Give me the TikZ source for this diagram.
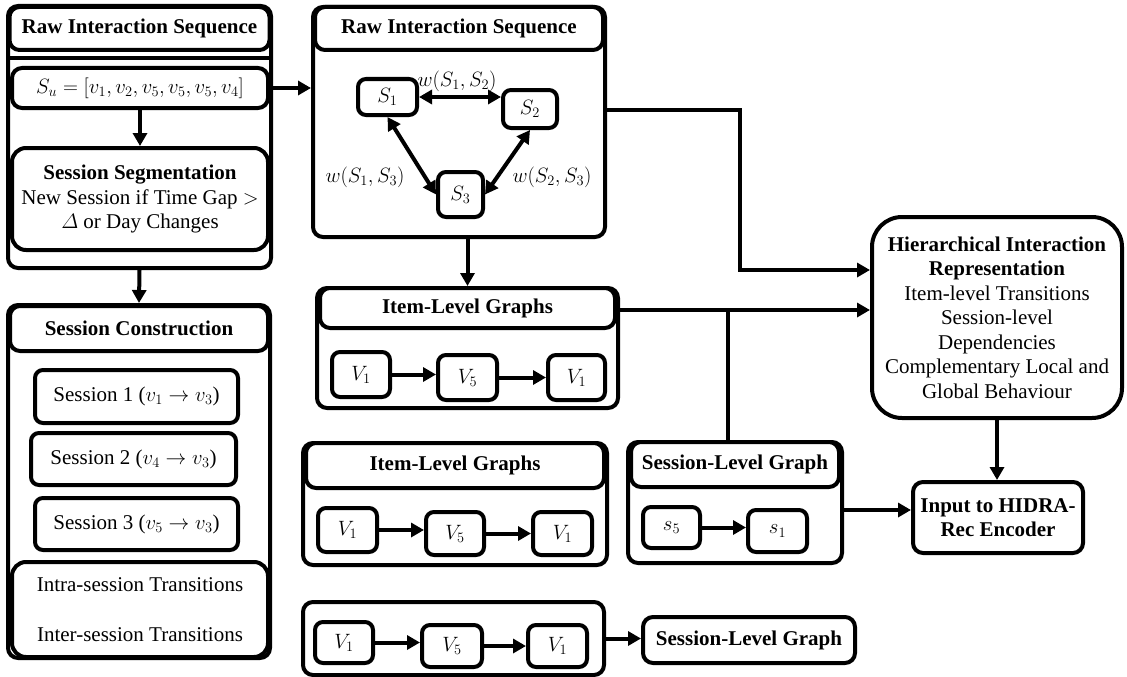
\documentclass[tikz,border=0pt]{standalone}
\usepackage{amsmath,amssymb}
\usepackage{fontspec}
\setmainfont{Liberation Serif}
\usetikzlibrary{arrows.meta,calc,positioning}

\begin{document}
\begin{tikzpicture}[x=1pt,y=-1pt,>={Triangle[length=13pt,width=14pt]},
  every node/.style={font=\fontsize{21}{24.5}\selectfont},
  sz/.style 2 args={minimum width=#1pt,minimum height=#2pt},
  panel/.style={draw,fill=white,line width=4pt,rounded corners=10pt,inner sep=0pt,align=center},
  head/.style={panel,font=\fontsize{21}{24.5}\selectfont\bfseries},
  item/.style={panel,rounded corners=8pt,font=\fontsize{22}{24.5}\selectfont},
  link/.style={line width=4pt,->}]
  \useasboundingbox (0,0) rectangle (1127,677);

  % left column
  \node[panel,sz={263}{262}] (rawA) at (139.5,137) {};
  \node[head,sz={260}{43}] (rawAT) at (139.5,28.5) {Raw Interaction Sequence};
  \draw[line width=4pt] (rawA.west |- 0,58) -- (rawA.east |- 0,58);
  \node[panel,sz={256}{40}] (seq) at (140,88) {$S_u=[v_1,v_2,v_5,v_5,v_5,v_4]$};
  \node[panel,sz={256}{102},rounded corners=14pt] (seg) at (140,199)
    {\textbf{Session Segmentation}\\New Session if Time Gap $>$\\$\varDelta$ or Day Changes};

  \node[panel,sz={262}{353}] (cons) at (139,481.5) {};
  \node[head,sz={258}{45}] (consT) at (139,328.5) {Session Construction};
  \node[item,sz={203}{53},font=\fontsize{21}{24.5}\selectfont] (ses1) at (136.5,396.5) {Session 1 ($v_1\rightarrow v_3$)};
  \node[item,sz={205}{52},font=\fontsize{21}{24.5}\selectfont] (ses2) at (133.5,459) {Session 2 ($v_4\rightarrow v_3$)};
  \node[item,sz={203}{52},font=\fontsize{21}{24.5}\selectfont] (ses3) at (136.5,524) {Session 3 ($v_5\rightarrow v_3$)};
  \node[panel,sz={256}{95},rounded corners=14pt] (trans) at (140,609.5)
    {Intra-session Transitions\\[25.5pt]Inter-session Transitions};

  % session graph
  \node[panel,sz={292}{230}] (rawB) at (459,122) {};
  \node[head,sz={288}{43}] (rawBT) at (459,28.5) {Raw Interaction Sequence};
  \node[item,sz={59}{36}] (S1) at (387.5,97) {$S_1$};
  \node[item,sz={54}{38}] (S2) at (530,109) {$S_2$};
  \node[item,sz={45}{45}] (S3) at (460.5,194.5) {$S_3$};
  \node (w12) at (457,81) {$w(S_1,S_2)$};
  \node (w13) at (365,177) {$w(S_1,S_3)$};
  \node (w23) at (552,177) {$w(S_2,S_3)$};
  \draw[link,<->] (S1.east) -- (S1.east -| S2.west);
  \draw[link,<->] (S1.south) -- (S3.west);
  \draw[link,<->] (S2.south) -- (S3.east);

  % item-level graphs
  \node[panel,sz={301}{120}] (itemA) at (467.5,348) {};
  \node[head,sz={295}{40}] (itemAT) at (467.5,308) {Item-Level Graphs};
  \node[item,sz={58}{45}] (Va1) at (361,374.5) {$V_1$};
  \node[item,sz={59}{45}] (Va2) at (467.5,377.5) {$V_5$};
  \node[item,sz={57}{45}] (Va3) at (576.5,377.5) {$V_1$};

  \node[panel,sz={304}{122}] (itemB) at (455,504) {};
  \node[head,sz={298}{45}] (itemBT) at (455,465.5) {Item-Level Graphs};
  \node[item,sz={59}{44}] (Vb1) at (347.5,530) {$V_1$};
  \node[item,sz={58}{43}] (Vb2) at (455,533.5) {$V_5$};
  \node[item,sz={59}{43}] (Vb3) at (562.5,533.5) {$V_1$};

  \node[panel,sz={301}{73}] (itemC) at (453.5,638.5) {};
  \node[item,sz={58}{41}] (Vc1) at (344,642.5) {$V_1$};
  \node[item,sz={60}{42}] (Vc2) at (452,646) {$V_5$};
  \node[item,sz={59}{42}] (Vc3) at (557.5,646) {$V_1$};
  \node[head,sz={212}{46}] (sesB) at (749,640) {Session-Level Graph};

  % session-level graph
  \node[panel,sz={214}{121}] (sesA) at (735,502.5) {};
  \node[head,sz={208}{45}] (sesAT) at (735,464.5) {Session-Level Graph};
  \node[item,sz={57}{41}] (s5) at (671.5,527.5) {$s_5$};
  \node[item,sz={59}{42}] (s1) at (777.5,531) {$s_1$};

  % right column
  \node[panel,sz={250}{201},rounded corners=30pt] (hier) at (997,317.5)
    {\textbf{Hierarchical Interaction}\\\textbf{Representation}\\Item-level Transitions\\Session-level\\Dependencies\\Complementary Local and\\Global Behaviour};
  \node[head,sz={170}{71}] (enc) at (998,517.5) {Input to HIDRA-\\Rec Encoder};

  % connectors
  \coordinate (bendA) at (740,110);
  \coordinate (bendB) at (740,270);
  \coordinate (joinA) at (728,310);
  \coordinate (encIn) at (0,510);
  \draw[link] (seq.south) -- (seg.north);
  \draw[link] (rawA.south) -- (cons.north);
  \draw[link] (seq.east) -- (seq.east -| rawB.west);
  \draw[link] (bendA -| rawB.east) -- (bendA) -- (bendB) -- (bendB -| hier.west);
  \draw[link] (itemA.north |- rawB.south) -- (itemA.north);
  \draw[link] (joinA -| itemA.east) -- (joinA -| hier.west);
  \draw[line width=4pt] (joinA) -- (joinA |- sesA.north);
  \draw[link] (hier.south) -- (hier.south |- enc.north);
  \draw[link] (sesA.east |- encIn) -- (enc.west |- encIn);
  \draw[link] (itemC.east) -- (itemC.east -| sesB.west);
  \foreach \u/\v in {Va1/Va2,Va2/Va3,Vb1/Vb2,Vb2/Vb3,Vc1/Vc2,Vc2/Vc3,s5/s1}
    \draw[link] (\u.east) -- (\u.east -| \v.west);
\end{tikzpicture}
\end{document}
